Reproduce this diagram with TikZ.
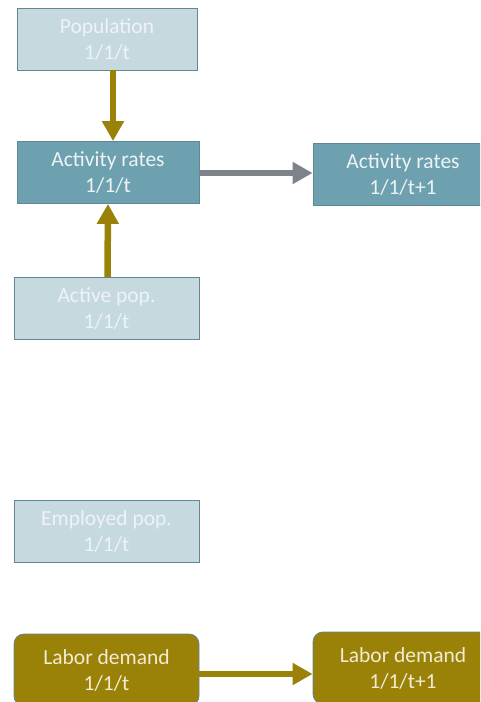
\documentclass[tikz,border=0pt]{standalone}
\usepackage{fontspec}
\setmainfont{Carlito}
\usetikzlibrary{arrows.meta}
\definecolor{paleblue}{HTML}{C6D9DF}
\definecolor{midblue}{HTML}{6EA1AF}
\definecolor{edgeblue}{HTML}{5F8794}
\definecolor{gold}{HTML}{9A8209}
\definecolor{greyarrow}{HTML}{7E838B}
\definecolor{lighttext}{HTML}{EEF3F5}
\definecolor{goldtext}{HTML}{F3EBD2}
\tikzset{
  box/.style={draw=edgeblue, line width=0.8pt, minimum width=#1, minimum height=62pt,
    inner sep=0pt, align=center, font=\fontsize{21.5}{26}\selectfont, text=lighttext},
  box/.default=182pt,
  palebox/.style={box=#1, fill=paleblue},
  palebox/.default=183pt,
  midbox/.style={box=#1, fill=midblue},
  midbox/.default=182pt,
  goldbox/.style={box=#1, fill=gold, rounded corners=10pt, text=goldtext, minimum height=72pt},
  goldbox/.default=185pt,
  goldarrow/.style={draw=gold, line width=6.5pt, -{Triangle[length=20pt,width=21pt]}},
  greyline/.style={draw=greyarrow, line width=6.5pt, -{Triangle[length=20pt,width=21pt]}}
}
\begin{document}
\begin{tikzpicture}[x=1pt,y=-1pt]
\useasboundingbox (0,0) rectangle (480,702);
\clip (0,0) rectangle (480,702);
\node[palebox=180pt] (pop) at (107,39) {Population\\1/1/t};
\node[midbox] (act) at (108,172.5) {Activity rates\\1/1/t};
\node[midbox=180pt] (actn) at (403,174.5) {Activity rates\\1/1/t+1};
\node[palebox=185pt] (apop) at (106.5,308.5) {Active pop.\\1/1/t};
\node[palebox=185pt] (epop) at (106.5,531) {Employed pop.\\1/1/t};
\node[goldbox] (lab) at (106.5,670) {Labor demand\\1/1/t};
\node[goldbox=180pt] (labn) at (403,668) {Labor demand\\1/1/t+1};
\draw[goldarrow] (pop.south -| 113,0) -- (act.north -| 113,0);
\draw[goldarrow] ([xshift=1pt]apop.north) -- ([xshift=0pt]act.south);
\draw[greyline] (act.east |- 0,173) -- (actn.west |- 0,173);
\draw[goldarrow] (lab.east |- 0,674) -- (labn.west |- 0,674);
\end{tikzpicture}
\end{document}
